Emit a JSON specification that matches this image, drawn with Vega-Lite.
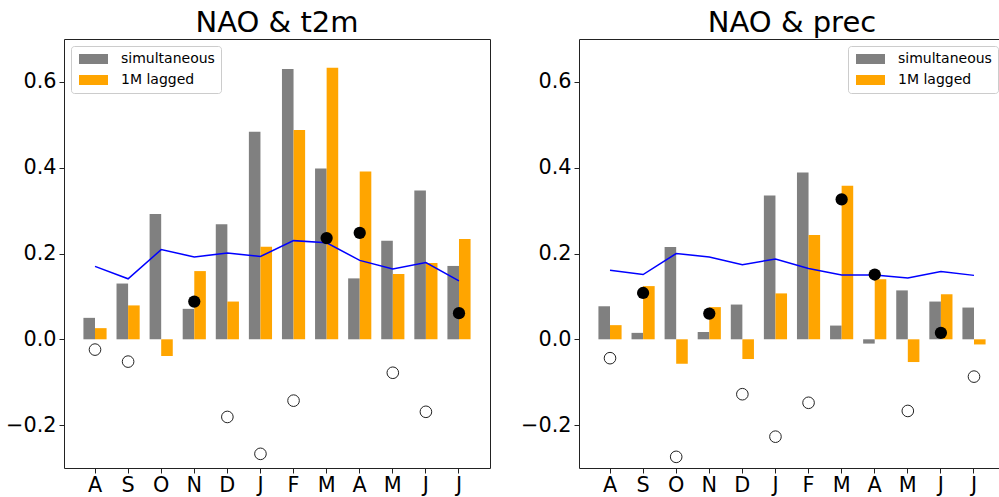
{
  "$schema": "https://vega.github.io/schema/vega-lite/v6.json",
  "padding": {"left": 5, "top": 8, "right": 0, "bottom": 0},
  "background": "white",
  "bounds": "flush",
  "spacing": 89,
  "datasets": {
    "bars": [
      {"panel": "t2m", "month": "Aug", "series": "simultaneous", "value": 0.050},
      {"panel": "t2m", "month": "Sep", "series": "simultaneous", "value": 0.130},
      {"panel": "t2m", "month": "Oct", "series": "simultaneous", "value": 0.292},
      {"panel": "t2m", "month": "Nov", "series": "simultaneous", "value": 0.071},
      {"panel": "t2m", "month": "Dec", "series": "simultaneous", "value": 0.268},
      {"panel": "t2m", "month": "Jan", "series": "simultaneous", "value": 0.484},
      {"panel": "t2m", "month": "Feb", "series": "simultaneous", "value": 0.630},
      {"panel": "t2m", "month": "Mar", "series": "simultaneous", "value": 0.398},
      {"panel": "t2m", "month": "Apr", "series": "simultaneous", "value": 0.142},
      {"panel": "t2m", "month": "May", "series": "simultaneous", "value": 0.230},
      {"panel": "t2m", "month": "Jun", "series": "simultaneous", "value": 0.347},
      {"panel": "t2m", "month": "Jul", "series": "simultaneous", "value": 0.171},
      {"panel": "t2m", "month": "Aug", "series": "1M lagged", "value": 0.026},
      {"panel": "t2m", "month": "Sep", "series": "1M lagged", "value": 0.079},
      {"panel": "t2m", "month": "Oct", "series": "1M lagged", "value": -0.039},
      {"panel": "t2m", "month": "Nov", "series": "1M lagged", "value": 0.159},
      {"panel": "t2m", "month": "Dec", "series": "1M lagged", "value": 0.088},
      {"panel": "t2m", "month": "Jan", "series": "1M lagged", "value": 0.216},
      {"panel": "t2m", "month": "Feb", "series": "1M lagged", "value": 0.488},
      {"panel": "t2m", "month": "Mar", "series": "1M lagged", "value": 0.633},
      {"panel": "t2m", "month": "Apr", "series": "1M lagged", "value": 0.391},
      {"panel": "t2m", "month": "May", "series": "1M lagged", "value": 0.152},
      {"panel": "t2m", "month": "Jun", "series": "1M lagged", "value": 0.178},
      {"panel": "t2m", "month": "Jul", "series": "1M lagged", "value": 0.234},
      {"panel": "prec", "month": "Aug", "series": "simultaneous", "value": 0.077},
      {"panel": "prec", "month": "Sep", "series": "simultaneous", "value": 0.015},
      {"panel": "prec", "month": "Oct", "series": "simultaneous", "value": 0.215},
      {"panel": "prec", "month": "Nov", "series": "simultaneous", "value": 0.017},
      {"panel": "prec", "month": "Dec", "series": "simultaneous", "value": 0.081},
      {"panel": "prec", "month": "Jan", "series": "simultaneous", "value": 0.335},
      {"panel": "prec", "month": "Feb", "series": "simultaneous", "value": 0.389},
      {"panel": "prec", "month": "Mar", "series": "simultaneous", "value": 0.032},
      {"panel": "prec", "month": "Apr", "series": "simultaneous", "value": -0.010},
      {"panel": "prec", "month": "May", "series": "simultaneous", "value": 0.114},
      {"panel": "prec", "month": "Jun", "series": "simultaneous", "value": 0.088},
      {"panel": "prec", "month": "Jul", "series": "simultaneous", "value": 0.074},
      {"panel": "prec", "month": "Aug", "series": "1M lagged", "value": 0.033},
      {"panel": "prec", "month": "Sep", "series": "1M lagged", "value": 0.124},
      {"panel": "prec", "month": "Oct", "series": "1M lagged", "value": -0.057},
      {"panel": "prec", "month": "Nov", "series": "1M lagged", "value": 0.075},
      {"panel": "prec", "month": "Dec", "series": "1M lagged", "value": -0.046},
      {"panel": "prec", "month": "Jan", "series": "1M lagged", "value": 0.107},
      {"panel": "prec", "month": "Feb", "series": "1M lagged", "value": 0.243},
      {"panel": "prec", "month": "Mar", "series": "1M lagged", "value": 0.358},
      {"panel": "prec", "month": "Apr", "series": "1M lagged", "value": 0.140},
      {"panel": "prec", "month": "May", "series": "1M lagged", "value": -0.053},
      {"panel": "prec", "month": "Jun", "series": "1M lagged", "value": 0.105},
      {"panel": "prec", "month": "Jul", "series": "1M lagged", "value": -0.012}
    ],
    "threshold": [
      {"panel": "t2m", "month": "Aug", "value": 0.170},
      {"panel": "t2m", "month": "Sep", "value": 0.141},
      {"panel": "t2m", "month": "Oct", "value": 0.209},
      {"panel": "t2m", "month": "Nov", "value": 0.192},
      {"panel": "t2m", "month": "Dec", "value": 0.201},
      {"panel": "t2m", "month": "Jan", "value": 0.193},
      {"panel": "t2m", "month": "Feb", "value": 0.230},
      {"panel": "t2m", "month": "Mar", "value": 0.225},
      {"panel": "t2m", "month": "Apr", "value": 0.184},
      {"panel": "t2m", "month": "May", "value": 0.164},
      {"panel": "t2m", "month": "Jun", "value": 0.179},
      {"panel": "t2m", "month": "Jul", "value": 0.136},
      {"panel": "prec", "month": "Aug", "value": 0.161},
      {"panel": "prec", "month": "Sep", "value": 0.151},
      {"panel": "prec", "month": "Oct", "value": 0.200},
      {"panel": "prec", "month": "Nov", "value": 0.192},
      {"panel": "prec", "month": "Dec", "value": 0.174},
      {"panel": "prec", "month": "Jan", "value": 0.187},
      {"panel": "prec", "month": "Feb", "value": 0.165},
      {"panel": "prec", "month": "Mar", "value": 0.150},
      {"panel": "prec", "month": "Apr", "value": 0.150},
      {"panel": "prec", "month": "May", "value": 0.143},
      {"panel": "prec", "month": "Jun", "value": 0.158},
      {"panel": "prec", "month": "Jul", "value": 0.149}
    ],
    "dots": [
      {"panel": "t2m", "month": "Nov", "kind": "filled", "value": 0.088},
      {"panel": "t2m", "month": "Mar", "kind": "filled", "value": 0.236},
      {"panel": "t2m", "month": "Apr", "kind": "filled", "value": 0.248},
      {"panel": "t2m", "month": "Jul", "kind": "filled", "value": 0.061},
      {"panel": "t2m", "month": "Aug", "kind": "open", "value": -0.024},
      {"panel": "t2m", "month": "Sep", "kind": "open", "value": -0.052},
      {"panel": "t2m", "month": "Dec", "kind": "open", "value": -0.181},
      {"panel": "t2m", "month": "Jan", "kind": "open", "value": -0.267},
      {"panel": "t2m", "month": "Feb", "kind": "open", "value": -0.143},
      {"panel": "t2m", "month": "May", "kind": "open", "value": -0.078},
      {"panel": "t2m", "month": "Jun", "kind": "open", "value": -0.169},
      {"panel": "prec", "month": "Sep", "kind": "filled", "value": 0.108},
      {"panel": "prec", "month": "Nov", "kind": "filled", "value": 0.060},
      {"panel": "prec", "month": "Mar", "kind": "filled", "value": 0.326},
      {"panel": "prec", "month": "Apr", "kind": "filled", "value": 0.151},
      {"panel": "prec", "month": "Jun", "kind": "filled", "value": 0.015},
      {"panel": "prec", "month": "Aug", "kind": "open", "value": -0.044},
      {"panel": "prec", "month": "Oct", "kind": "open", "value": -0.274},
      {"panel": "prec", "month": "Dec", "kind": "open", "value": -0.128},
      {"panel": "prec", "month": "Jan", "kind": "open", "value": -0.227},
      {"panel": "prec", "month": "Feb", "kind": "open", "value": -0.148},
      {"panel": "prec", "month": "May", "kind": "open", "value": -0.167},
      {"panel": "prec", "month": "Jul", "kind": "open", "value": -0.087}
    ]
  },
  "hconcat": [
    {
      "title": "NAO & t2m",
      "width": 426,
      "height": 429,
      "encoding": {
        "x": {
          "field": "month", "type": "nominal",
          "sort": ["Aug","Sep","Oct","Nov","Dec","Jan","Feb","Mar","Apr","May","Jun","Jul"],
          "scale": {"paddingInner": 0.3, "paddingOuter": 0.587},
          "axis": {"labelExpr": "slice(datum.label, 0, 1)", "labelAngle": 0, "labelPadding": 2}
        },
        "y": {
          "field": "value", "type": "quantitative",
          "scale": {"domain": [-0.3, 0.7], "nice": false, "zero": false},
          "axis": {"values": [-0.2, 0, 0.2, 0.4, 0.6], "format": ".1f"}
        }
      },
      "layer": [
        {
          "data": {"name": "bars"},
          "transform": [{"filter": {"field": "panel", "equal": "t2m"}}],
          "mark": {"type": "bar"},
          "encoding": {
            "xOffset": {"field": "series", "type": "nominal", "sort": ["simultaneous", "1M lagged"], "scale": {"paddingInner": 0, "paddingOuter": 0}},
            "color": {
              "field": "series", "type": "nominal",
              "scale": {"domain": ["simultaneous", "1M lagged"], "range": ["#808080", "#ffa500"]},
              "legend": {"title": null, "orient": "top-left"}
            }
          }
        },
        {
          "data": {"name": "threshold"},
          "transform": [{"filter": {"field": "panel", "equal": "t2m"}}],
          "mark": {"type": "line", "color": "#0000ff", "strokeWidth": 1.5},
          "encoding": {}
        },
        {
          "data": {"name": "dots"},
          "transform": [{"filter": "datum.panel === 't2m' && datum.kind === 'filled'"}],
          "mark": {"type": "point", "shape": "circle", "filled": true, "color": "black", "size": 150, "opacity": 1},
          "encoding": {}
        },
        {
          "data": {"name": "dots"},
          "transform": [{"filter": "datum.panel === 't2m' && datum.kind === 'open'"}],
          "mark": {"type": "point", "shape": "circle", "fill": "white", "stroke": "#222222", "strokeWidth": 1, "size": 135, "opacity": 1, "fillOpacity": 1},
          "encoding": {}
        }
      ]
    },
    {
      "title": "NAO & prec",
      "width": 426,
      "height": 429,
      "encoding": {
        "x": {
          "field": "month", "type": "nominal",
          "sort": ["Aug","Sep","Oct","Nov","Dec","Jan","Feb","Mar","Apr","May","Jun","Jul"],
          "scale": {"paddingInner": 0.3, "paddingOuter": 0.587},
          "axis": {"labelExpr": "slice(datum.label, 0, 1)", "labelAngle": 0, "labelPadding": 2}
        },
        "y": {
          "field": "value", "type": "quantitative",
          "scale": {"domain": [-0.3, 0.7], "nice": false, "zero": false},
          "axis": {"values": [-0.2, 0, 0.2, 0.4, 0.6], "format": ".1f"}
        }
      },
      "layer": [
        {
          "data": {"name": "bars"},
          "transform": [{"filter": {"field": "panel", "equal": "prec"}}],
          "mark": {"type": "bar"},
          "encoding": {
            "xOffset": {"field": "series", "type": "nominal", "sort": ["simultaneous", "1M lagged"], "scale": {"paddingInner": 0, "paddingOuter": 0}},
            "color": {
              "field": "series", "type": "nominal",
              "scale": {"domain": ["simultaneous", "1M lagged"], "range": ["#808080", "#ffa500"]},
              "legend": {"title": null, "orient": "top-right"}
            }
          }
        },
        {
          "data": {"name": "threshold"},
          "transform": [{"filter": {"field": "panel", "equal": "prec"}}],
          "mark": {"type": "line", "color": "#0000ff", "strokeWidth": 1.5},
          "encoding": {}
        },
        {
          "data": {"name": "dots"},
          "transform": [{"filter": "datum.panel === 'prec' && datum.kind === 'filled'"}],
          "mark": {"type": "point", "shape": "circle", "filled": true, "color": "black", "size": 150, "opacity": 1},
          "encoding": {}
        },
        {
          "data": {"name": "dots"},
          "transform": [{"filter": "datum.panel === 'prec' && datum.kind === 'open'"}],
          "mark": {"type": "point", "shape": "circle", "fill": "white", "stroke": "#222222", "strokeWidth": 1, "size": 135, "opacity": 1, "fillOpacity": 1},
          "encoding": {}
        }
      ]
    }
  ],
  "resolve": {"legend": {"color": "independent"}},
  "config": {
    "font": "DejaVu Sans",
    "view": {"stroke": "#222222", "strokeWidth": 1},
    "axis": {
      "labelFont": "DejaVu Sans", "labelFontSize": 20.8, "labelColor": "black",
      "tickColor": "#222222", "tickSize": 5, "tickWidth": 1,
      "domain": false, "grid": false, "title": null, "labelPadding": 3
    },
    "title": {
      "font": "DejaVu Sans", "fontSize": 29, "fontWeight": "normal", "color": "black",
      "baseline": "alphabetic", "offset": 1, "anchor": "middle"
    },
    "legend": {
      "offset": 7, "labelFont": "DejaVu Sans", "labelFontSize": 14, "labelColor": "black",
      "symbolType": "M-1,-1H4.8V1H-1Z", "symbolSize": 100, "symbolStrokeWidth": 0,
      "labelOffset": 30, "rowPadding": 7, "padding": 6,
      "strokeColor": "#cccccc", "fillColor": "white", "cornerRadius": 3
    }
  }
}
